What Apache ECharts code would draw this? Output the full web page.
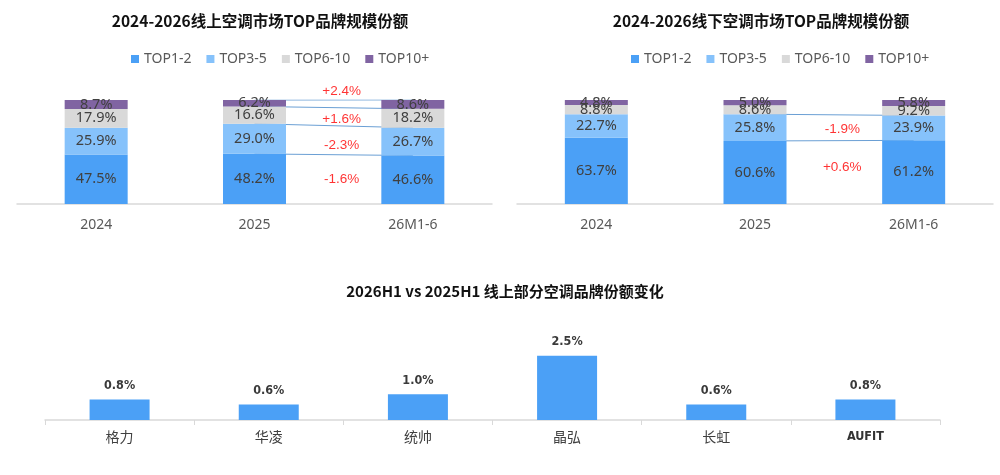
<!DOCTYPE html>
<html><head><meta charset="utf-8">
<script src="https://cdn.jsdelivr.net/npm/echarts@6/dist/echarts.min.js"></script>
<style>html,body{margin:0;padding:0;background:#fff}#c{width:1000px;height:475px}</style>
</head><body><div id="c"></div>
<script>
const categories = ['2024', '2025', '26M1-6'];
const seriesNames = ['TOP1-2', 'TOP3-5', 'TOP6-10', 'TOP10+'];
const onlineTop12 = [47.5, 48.2, 46.6];
const onlineTop35 = [25.9, 29.0, 26.7];
const onlineTop610 = [17.9, 16.6, 18.2];
const onlineTop10p = [8.7, 6.2, 8.6];
const offlineTop12 = [63.7, 60.6, 61.2];
const offlineTop35 = [22.7, 25.8, 23.9];
const offlineTop610 = [8.8, 8.6, 9.2];
const offlineTop10p = [4.8, 5.0, 5.8];
const brands = ['格力', '华凌', '统帅', '晶弘', '长虹', 'AUFIT'];
const shareChange = [0.8, 0.6, 1.0, 2.5, 0.6, 0.8];

// annotation label heights (value units) for the change labels between 2025 and 26M1-6
const onlineAnnoY = [24, 56.5, 81, 108];
const offlineAnnoY = [35.5, 72];

const colors = ['#4ba0f6', '#86c2fb', '#d9d9d9', '#8064a2'];
const online = [onlineTop12, onlineTop35, onlineTop610, onlineTop10p];
const offline = [offlineTop12, offlineTop35, offlineTop610, offlineTop10p];

function cum(groups, level, idx) {
  let s = 0;
  for (let k = 0; k <= level; k++) s += groups[k][idx];
  return +s.toFixed(1);
}
function fmtChange(v) { return (v > 0 ? '+' : '') + v.toFixed(1) + '%'; }

const series = [];
function addStack(groups, axisIdx, stackName) {
  groups.forEach((arr, i) => {
    series.push({
      type: 'bar', name: seriesNames[i], stack: stackName,
      xAxisIndex: axisIdx, yAxisIndex: axisIdx, barWidth: 63, z: 3,
      itemStyle: { color: colors[i] },
      label: { show: true, position: 'inside', color: '#404040', fontSize: 14.5,
        fontFamily: 'Noto Sans', formatter: p => p.value.toFixed(1) + '%' },
      emphasis: { disabled: true },
      data: arr
    });
  });
}
addStack(online, 0, 'on');
addStack(offline, 1, 'off');

function addConnectors(groups, axisIdx, levels) {
  levels.forEach(l => {
    series.push({
      type: 'line', name: 'conn' + axisIdx + '_' + l, xAxisIndex: axisIdx, yAxisIndex: axisIdx,
      z: 1, symbol: 'none', silent: true,
      lineStyle: { color: '#6a9fd4', width: 1 },
      data: [null, cum(groups, l, 1), cum(groups, l, 2)]
    });
  });
}
addConnectors(online, 0, [0, 1, 2, 3]);
addConnectors(offline, 1, [0, 1]);

function addAnno(groups, xIdx, yIdx, levels, ys) {
  series.push({
    type: 'scatter', name: 'anno' + yIdx, xAxisIndex: xIdx, yAxisIndex: yIdx,
    symbolSize: 0, silent: true, z: 5, clip: false,
    label: { show: true, position: 'inside', color: '#ff0000', fontSize: 13.5,
      fontFamily: 'Liberation Sans', formatter: p => p.data[2] },
    data: levels.map((l, j) => [1.55, ys[j], fmtChange(groups[l][2] - groups[l][1])])
  });
}
addAnno(online, 3, 0, [0, 1, 2, 3], onlineAnnoY);
addAnno(offline, 4, 1, [0, 1], offlineAnnoY);

series.push({
  type: 'bar', name: 'change', xAxisIndex: 2, yAxisIndex: 2, barWidth: 60,
  itemStyle: { color: '#4ba0f6' },
  label: { show: true, position: 'top', distance: 7, color: '#3a3a3a', fontSize: 12.5,
    fontWeight: 'bold', fontFamily: 'DejaVu Sans Condensed', formatter: p => p.value.toFixed(1) + '%' },
  emphasis: { disabled: true },
  data: shareChange
});

const catAxisTop = (gi) => ({
  type: 'category', gridIndex: gi, data: categories,
  axisLine: { lineStyle: { color: '#d9d9d9', width: 1.5 } },
  axisTick: { show: false },
  axisLabel: { color: '#595959', fontSize: 14, fontFamily: 'Noto Sans', margin: 14 }
});

const legendCommon = {
  data: seriesNames, icon: 'rect', itemWidth: 8, itemHeight: 8, itemGap: 15,
  top: 47, textStyle: { color: '#595959', fontSize: 14, fontFamily: 'Noto Sans' }
};

const option = {
  animation: false,
  title: [
    { text: '2024-2026线上空调市场TOP品牌规模份额', left: 255, top: 8, textAlign: 'center',
      textStyle: { fontSize: 15.5, fontWeight: 'bold', color: '#111', fontFamily: 'Noto Sans CJK SC' } },
    { text: '2024-2026线下空调市场TOP品牌规模份额', left: 756, top: 8, textAlign: 'center',
      textStyle: { fontSize: 15.5, fontWeight: 'bold', color: '#111', fontFamily: 'Noto Sans CJK SC' } },
    { text: '2026H1 vs 2025H1 线上部分空调品牌份额变化', left: 500, top: 279, textAlign: 'center',
      textStyle: { fontSize: 15, fontWeight: 'bold', color: '#111', fontFamily: 'Noto Sans CJK SC' } }
  ],
  legend: [
    Object.assign({}, legendCommon, { left: 126 }),
    Object.assign({}, legendCommon, { left: 626 })
  ],
  grid: [
    { left: 17, width: 475, top: 100, height: 104 },
    { left: 517, width: 476, top: 100, height: 104 },
    { left: 45, width: 895, top: 330, height: 90 }
  ],
  xAxis: [
    catAxisTop(0),
    catAxisTop(1),
    { type: 'category', gridIndex: 2, data: brands,
      axisLine: { lineStyle: { color: '#d9d9d9', width: 1.5 } },
      axisTick: { show: true, length: 5, lineStyle: { color: '#d9d9d9' } },
      axisLabel: { color: '#404040', fontSize: 14, fontFamily: 'Noto Sans CJK SC', margin: 10,
        formatter: v => v === 'AUFIT' ? '{b|' + v + '}' : v,
        rich: { b: { fontWeight: 'bold', fontSize: 12.5, color: '#333', fontFamily: 'DejaVu Sans Condensed' } } } },
    { type: 'value', gridIndex: 0, min: -0.5, max: 2.5, show: false },
    { type: 'value', gridIndex: 1, min: -0.5, max: 2.5, show: false }
  ],
  yAxis: [
    { type: 'value', gridIndex: 0, min: 0, max: 100, show: false },
    { type: 'value', gridIndex: 1, min: 0, max: 100, show: false },
    { type: 'value', gridIndex: 2, min: 0, max: 3.5, show: false }
  ],
  series: series
};
const chart = echarts.init(document.getElementById('c'), null, { renderer: 'canvas' });
chart.setOption(option);
</script></body></html>
